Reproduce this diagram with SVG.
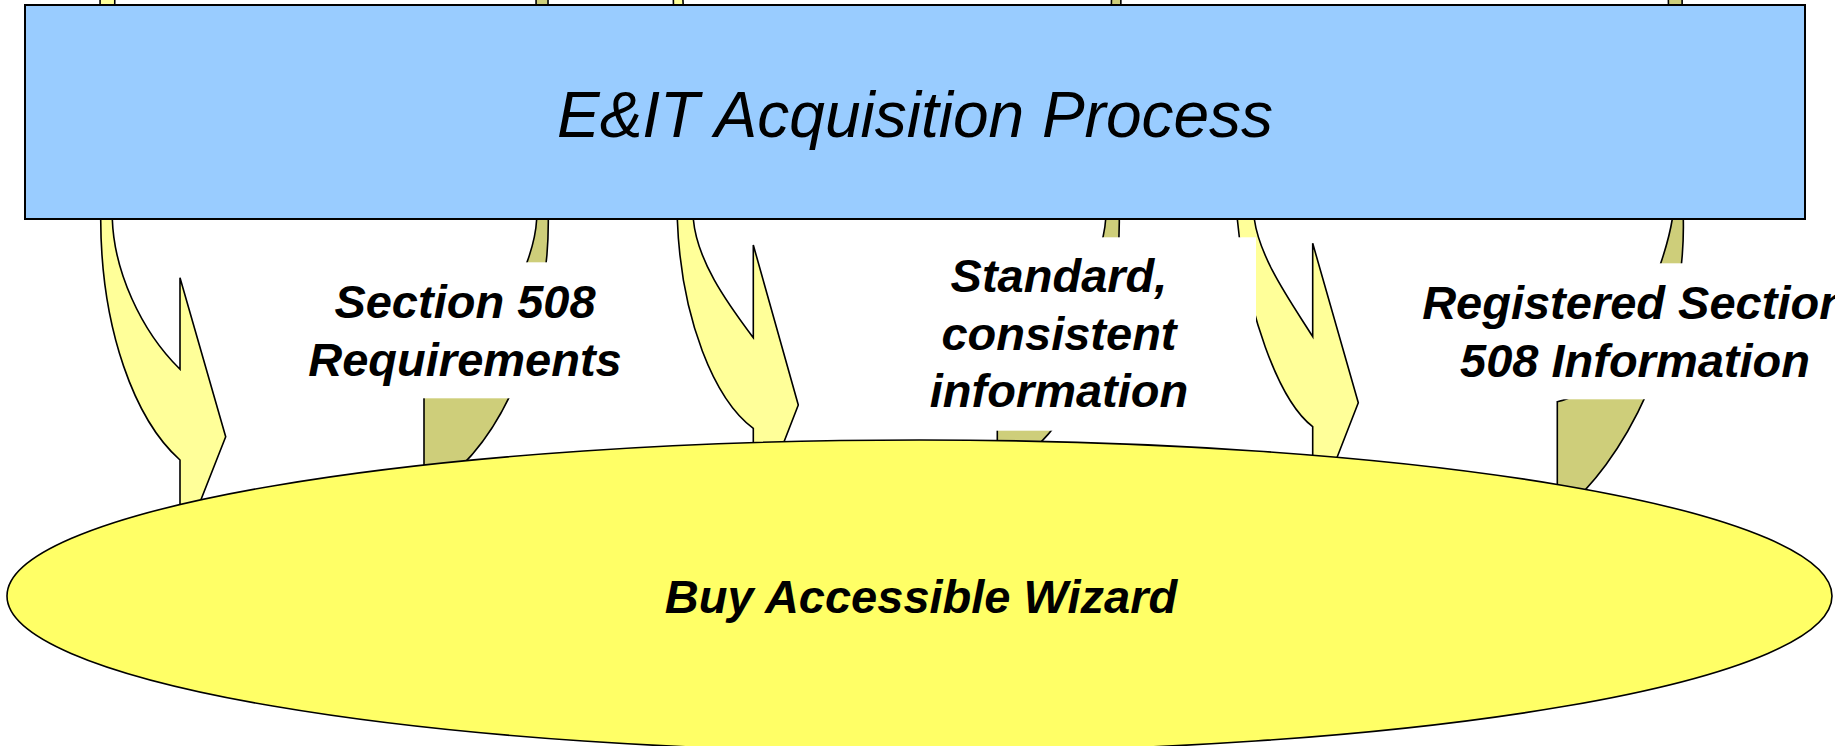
<svg xmlns="http://www.w3.org/2000/svg" width="1835" height="746" viewBox="0 0 1835 746">
<style>
.down{fill:#FFFF99;stroke:#000;stroke-width:1.6;stroke-linejoin:miter}
.up{fill:#CECE7A;stroke:#000;stroke-width:1.6}
.lblbox{fill:#FFFFFF;stroke:none}
.lbl{font-family:"Liberation Sans",Arial,sans-serif;font-size:47px;font-weight:bold;font-style:italic;fill:#000;text-anchor:middle}
</style>
<rect width="1835" height="746" fill="#FFFFFF"/>
<g id="connectors">
<path id="arrow-down-1" class="down" d="M 100,-20 L 100.7,219 C 101,330 135,420 180,460 L 180,553 L 225.7,436.7 L 180,277.7 L 180,369.3 C 140,330 114,270 112.3,219 L 115,-20 Z"/>
<path id="arrow-up-1" class="up" d="M 536,-20 L 536.7,219 C 534,270 490,350 424,390 L 424,495 C 510,445 549,320 548.3,219 L 548,-20 Z"/>
<path id="arrow-down-2" class="down" d="M 673,-20 L 677.3,219 C 681,320 715,400 753.3,428.3 L 753.3,521 L 798.3,405 L 753.3,245 L 753.3,337.7 C 725,300 697,260 693.3,219 L 682,-20 Z"/>
<path id="arrow-up-2" class="up" d="M 1112,-20 L 1105.7,219 C 1103,265 1060,345 997.3,378 L 997.3,476 C 1082,429 1120,313 1119.3,219 L 1121,-20 Z"/>
<path id="arrow-down-3" class="down" d="M 1233,40 L 1237.3,219 C 1246,310 1278,400 1312.7,426.7 L 1312.7,520 L 1358.3,402.7 L 1312.7,243.3 L 1312.7,336.7 C 1293,305 1260,260 1254.3,219 L 1250,40 Z"/>
<path id="arrow-up-3" class="up" d="M 1668,-20 L 1672.3,219 C 1665,265 1620,390 1557.3,401.7 L 1557.3,515 C 1625,465 1686,340 1683.3,219 L 1682,-20 Z"/>
</g>
<g id="labels">
<g id="label-1">
<rect class="lblbox" x="290" y="262.3" width="350" height="136"/>
<text class="lbl" x="465" y="318.3">Section 508</text>
<text class="lbl" x="465" y="376">Requirements</text>
</g>
<g id="label-2">
<rect class="lblbox" x="864" y="237.3" width="392" height="193.4"/>
<text class="lbl" x="1059" y="292">Standard,</text>
<text class="lbl" x="1059" y="349.5">consistent</text>
<text class="lbl" x="1059" y="407">information</text>
</g>
<g id="label-3">
<rect class="lblbox" x="1410" y="263.3" width="440" height="136"/>
<text class="lbl" x="1635" y="319">Registered Section</text>
<text class="lbl" x="1635" y="376.5">508 Information</text>
</g>
</g>
<g id="node-acquisition">
<rect x="25" y="5" width="1780" height="214" fill="#99CCFF" stroke="#000" stroke-width="2"/>
<text x="915" y="137" font-family="'Liberation Sans',Arial,sans-serif" font-size="64" font-style="italic" text-anchor="middle" fill="#000">E&amp;IT Acquisition Process</text>
</g>
<g id="node-wizard">
<ellipse cx="919.5" cy="596" rx="912.5" ry="156" fill="#FFFF66" stroke="#000" stroke-width="1.6"/>
<text x="921" y="612.7" font-family="'Liberation Sans',Arial,sans-serif" font-size="47" font-weight="bold" font-style="italic" text-anchor="middle" fill="#000">Buy Accessible Wizard</text>
</g>
</svg>
